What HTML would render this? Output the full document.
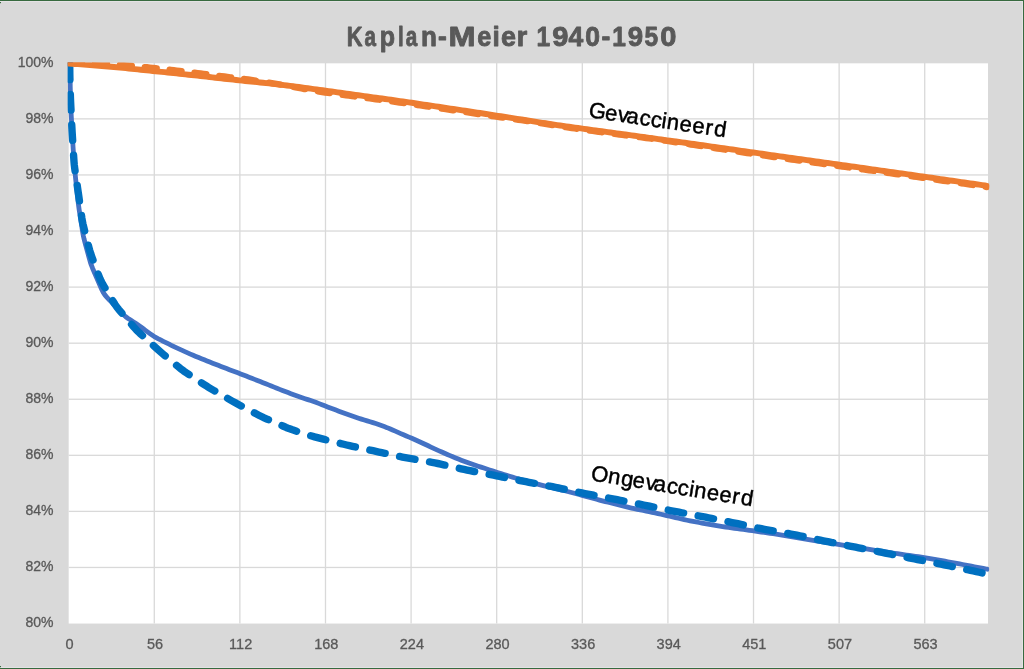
<!DOCTYPE html>
<html><head><meta charset="utf-8"><style>
html,body{margin:0;padding:0;background:#d9d9d9;}
body{width:1024px;height:669px;overflow:hidden;font-family:"Liberation Sans",sans-serif;}
svg{display:block;will-change:transform;}
</style></head><body>
<svg width="1024" height="669" viewBox="0 0 1024 669">
<defs><clipPath id="pc"><rect x="67.67" y="62.51" width="921.53" height="561.33"/></clipPath></defs>
<rect x="0" y="0" width="1024" height="669" fill="#d9d9d9"/>
<rect x="0" y="1" width="1022" height="1" fill="#e4e2e4"/>
<rect x="1022" y="1" width="1" height="667" fill="#e4e2e4"/>
<rect x="0" y="667" width="1022" height="1" fill="#e4e2e4"/>
<rect x="0" y="0" width="1024" height="1" fill="#376a3f"/>
<rect x="1023" y="0" width="1" height="669" fill="#376a3f"/>
<rect x="0" y="668" width="1024" height="1" fill="#376a3f"/>
<rect x="0" y="666" width="1" height="1.2" fill="#376a3f"/>
<rect x="0" y="2" width="1" height="1.2" fill="#376a3f"/>
<rect x="68.67" y="63.31" width="919.33" height="560.23" fill="#ffffff"/>
<rect x="153.63" y="62.81" width="1.3" height="560.73" fill="#d9d9d9"/>
<rect x="239.23" y="62.81" width="1.3" height="560.73" fill="#d9d9d9"/>
<rect x="324.84" y="62.81" width="1.3" height="560.73" fill="#d9d9d9"/>
<rect x="410.44" y="62.81" width="1.3" height="560.73" fill="#d9d9d9"/>
<rect x="496.05" y="62.81" width="1.3" height="560.73" fill="#d9d9d9"/>
<rect x="581.66" y="62.81" width="1.3" height="560.73" fill="#d9d9d9"/>
<rect x="667.26" y="62.81" width="1.3" height="560.73" fill="#d9d9d9"/>
<rect x="752.87" y="62.81" width="1.3" height="560.73" fill="#d9d9d9"/>
<rect x="838.47" y="62.81" width="1.3" height="560.73" fill="#d9d9d9"/>
<rect x="924.08" y="62.81" width="1.3" height="560.73" fill="#d9d9d9"/>
<rect x="68.67" y="118.23" width="919.33" height="1.3" fill="#d9d9d9"/>
<rect x="68.67" y="174.31" width="919.33" height="1.3" fill="#d9d9d9"/>
<rect x="68.67" y="230.38" width="919.33" height="1.3" fill="#d9d9d9"/>
<rect x="68.67" y="286.45" width="919.33" height="1.3" fill="#d9d9d9"/>
<rect x="68.67" y="342.53" width="919.33" height="1.3" fill="#d9d9d9"/>
<rect x="68.67" y="398.60" width="919.33" height="1.3" fill="#d9d9d9"/>
<rect x="68.67" y="454.67" width="919.33" height="1.3" fill="#d9d9d9"/>
<rect x="68.67" y="510.74" width="919.33" height="1.3" fill="#d9d9d9"/>
<rect x="68.67" y="566.82" width="919.33" height="1.3" fill="#d9d9d9"/>
<g clip-path="url(#pc)" fill="none" stroke-linejoin="round">
<path d="M70.20 60.00 L70.20 63.00 L70.20 66.00 L70.20 69.00 L70.20 72.00 L70.20 75.00 L70.20 78.00 L70.20 81.00 L70.22 84.00 L70.26 87.00 L70.35 90.00 L70.44 93.00 L70.55 96.00 L70.65 99.00 L70.75 101.99 L70.85 104.99 L70.95 107.99 L71.06 110.99 L71.17 113.99 L71.31 116.98 L71.47 119.98 L71.65 122.98 L71.82 125.97 L71.99 128.97 L72.17 131.96 L72.34 134.96 L72.52 137.95 L72.69 140.95 L72.87 143.94 L73.05 146.94 L73.24 149.93 L73.47 152.92 L73.70 155.91 L73.94 158.90 L74.19 161.89 L74.43 164.88 L74.67 167.88 L74.91 170.87 L75.16 173.86 L75.43 176.84 L75.73 179.83 L76.05 182.81 L76.38 185.79 L76.71 188.78 L77.04 191.76 L77.37 194.74 L77.70 197.72 L78.03 200.70 L78.37 203.69 L78.74 206.66 L79.15 209.63 L79.61 212.60 L80.07 215.56 L80.53 218.53 L80.99 221.49 L81.45 224.46 L81.92 227.42 L82.38 230.38 L82.87 233.34 L83.43 236.29 L84.11 239.20 L84.87 242.11 L85.65 245.00 L86.44 247.90 L87.22 250.79 L88.00 253.69 L88.79 256.59 L89.58 259.48 L90.41 262.36 L91.37 265.20 L92.47 267.98 L93.64 270.74 L94.83 273.50 L96.02 276.25 L97.21 279.00 L98.40 281.76 L99.59 284.51 L100.78 287.27 L102.00 290.00 L103.36 292.64 L105.03 295.08 L106.97 297.34 L109.01 299.54 L111.07 301.72 L113.12 303.90 L115.18 306.09 L117.24 308.27 L119.30 310.45 L121.36 312.63 L123.47 314.75 L125.72 316.71 L128.13 318.47 L130.63 320.12 L133.15 321.75 L135.66 323.38 L138.15 325.06 L140.60 326.79 L143.03 328.55 L145.45 330.32 L147.87 332.09 L150.30 333.86 L152.75 335.57 L155.29 337.16 L157.92 338.59 L160.59 339.94 L163.27 341.29 L165.96 342.63 L168.64 343.97 L171.33 345.31 L174.02 346.64 L176.72 347.93 L179.45 349.18 L182.19 350.41 L184.93 351.63 L187.66 352.86 L190.41 354.08 L193.16 355.28 L195.92 356.44 L198.70 357.57 L201.48 358.69 L204.27 359.81 L207.05 360.93 L209.84 362.04 L212.62 363.15 L215.42 364.24 L218.21 365.33 L221.01 366.42 L223.81 367.51 L226.60 368.59 L229.40 369.67 L232.21 370.73 L235.02 371.79 L237.83 372.84 L240.63 373.91 L243.43 374.99 L246.22 376.09 L249.01 377.18 L251.81 378.28 L254.60 379.38 L257.39 380.48 L260.18 381.57 L262.98 382.67 L265.77 383.78 L268.55 384.89 L271.34 386.01 L274.12 387.13 L276.90 388.25 L279.69 389.36 L282.48 390.47 L285.28 391.54 L288.09 392.59 L290.90 393.64 L293.72 394.68 L296.53 395.71 L299.35 396.73 L302.19 397.72 L305.03 398.67 L307.87 399.63 L310.72 400.58 L313.56 401.55 L316.38 402.57 L319.18 403.63 L321.98 404.72 L324.78 405.81 L327.57 406.89 L330.37 407.97 L333.18 409.03 L335.99 410.09 L338.80 411.14 L341.61 412.19 L344.42 413.23 L347.24 414.24 L350.08 415.24 L352.91 416.23 L355.74 417.21 L358.58 418.18 L361.44 419.10 L364.30 419.99 L367.17 420.85 L370.05 421.72 L372.91 422.61 L375.76 423.56 L378.59 424.55 L381.41 425.57 L384.23 426.59 L387.04 427.63 L389.83 428.75 L392.58 429.94 L395.31 431.17 L398.05 432.41 L400.79 433.62 L403.55 434.80 L406.31 435.97 L409.07 437.14 L411.83 438.32 L414.58 439.52 L417.33 440.73 L420.06 441.96 L422.78 443.22 L425.50 444.50 L428.21 445.78 L430.92 447.06 L433.64 448.34 L436.37 449.59 L439.10 450.82 L441.84 452.05 L444.58 453.27 L447.33 454.48 L450.08 455.67 L452.85 456.82 L455.63 457.95 L458.41 459.07 L461.20 460.18 L464.00 461.27 L466.81 462.30 L469.65 463.28 L472.49 464.25 L475.33 465.21 L478.17 466.17 L481.01 467.13 L483.86 468.07 L486.71 469.01 L489.56 469.94 L492.42 470.86 L495.28 471.78 L498.14 472.69 L501.00 473.59 L503.85 474.50 L506.71 475.41 L509.58 476.30 L512.45 477.16 L515.34 477.98 L518.23 478.77 L521.13 479.57 L524.02 480.36 L526.91 481.15 L529.81 481.95 L532.70 482.74 L535.59 483.53 L538.49 484.32 L541.39 485.09 L544.30 485.82 L547.21 486.53 L550.13 487.24 L553.04 487.95 L555.96 488.65 L558.88 489.36 L561.79 490.07 L564.71 490.77 L567.62 491.49 L570.53 492.22 L573.43 492.98 L576.33 493.76 L579.22 494.55 L582.12 495.34 L585.01 496.13 L587.91 496.92 L590.80 497.71 L593.69 498.50 L596.59 499.29 L599.49 500.07 L602.39 500.82 L605.30 501.55 L608.21 502.28 L611.12 503.01 L614.03 503.74 L616.94 504.47 L619.85 505.20 L622.76 505.93 L625.67 506.66 L628.59 507.37 L631.51 508.04 L634.44 508.67 L637.38 509.28 L640.32 509.89 L643.26 510.51 L646.19 511.12 L649.13 511.73 L652.07 512.35 L655.00 512.96 L657.94 513.58 L660.87 514.22 L663.80 514.88 L666.72 515.55 L669.64 516.23 L672.57 516.90 L675.49 517.57 L678.41 518.25 L681.34 518.92 L684.26 519.60 L687.19 520.26 L690.12 520.88 L693.07 521.45 L696.02 521.98 L698.97 522.51 L701.93 523.03 L704.88 523.56 L707.84 524.08 L710.79 524.60 L713.74 525.13 L716.70 525.64 L719.66 526.13 L722.62 526.58 L725.59 527.00 L728.57 527.42 L731.54 527.83 L734.51 528.25 L737.48 528.66 L740.45 529.07 L743.42 529.49 L746.40 529.90 L749.37 530.32 L752.34 530.74 L755.31 531.16 L758.28 531.59 L761.25 532.02 L764.22 532.44 L767.19 532.87 L770.16 533.30 L773.13 533.73 L776.10 534.16 L779.06 534.60 L782.02 535.08 L784.98 535.59 L787.94 536.10 L790.89 536.61 L793.85 537.13 L796.81 537.64 L799.76 538.15 L802.72 538.67 L805.67 539.18 L808.63 539.68 L811.59 540.17 L814.56 540.63 L817.52 541.09 L820.49 541.55 L823.45 542.00 L826.42 542.46 L829.38 542.92 L832.35 543.37 L835.31 543.83 L838.28 544.30 L841.24 544.77 L844.20 545.26 L847.16 545.74 L850.12 546.23 L853.08 546.72 L856.04 547.20 L859.00 547.69 L861.96 548.18 L864.92 548.66 L867.89 549.14 L870.85 549.61 L873.81 550.07 L876.78 550.52 L879.75 550.98 L882.71 551.43 L885.68 551.88 L888.64 552.34 L891.61 552.79 L894.57 553.25 L897.54 553.70 L900.51 554.14 L903.48 554.58 L906.44 555.01 L909.41 555.44 L912.38 555.87 L915.35 556.30 L918.32 556.73 L921.29 557.17 L924.26 557.60 L927.23 558.05 L930.19 558.53 L933.14 559.05 L936.09 559.59 L939.04 560.13 L941.99 560.68 L944.94 561.22 L947.89 561.76 L950.84 562.31 L953.79 562.85 L956.74 563.40 L959.69 563.95 L962.64 564.51 L965.59 565.07 L968.54 565.64 L971.48 566.20 L974.43 566.76 L977.38 567.32 L980.32 567.89 L983.27 568.45 L986.22 569.01 L987.20 569.20" stroke="#4472c4" stroke-width="4.80" stroke-linecap="round"/>
<path d="M69.70 60.00 L69.72 63.00 L69.74 66.00 L69.76 69.00 L69.79 72.01 L69.83 75.01 L69.89 78.01 L69.97 81.01 L70.05 84.01 L70.14 87.01 L70.22 90.01 L70.30 93.01 L70.39 96.01 L70.49 99.01 L70.61 102.01 L70.75 105.00 L70.90 108.00 L71.05 111.00 L71.20 114.00 L71.35 117.00 L71.50 119.99 L71.65 122.99 L71.80 125.99 L71.96 128.99 L72.13 131.98 L72.31 134.98 L72.50 137.97 L72.69 140.97 L72.88 143.96 L73.07 146.96 L73.25 149.96 L73.44 152.95 L73.63 155.95 L73.82 158.94 L74.03 161.94 L74.29 164.92 L74.65 167.90 L75.07 170.87 L75.51 173.84 L75.95 176.81 L76.39 179.78 L76.83 182.75 L77.27 185.72 L77.70 188.69 L78.13 191.66 L78.55 194.63 L78.97 197.60 L79.39 200.57 L79.80 203.55 L80.22 206.52 L80.64 209.49 L81.06 212.46 L81.48 215.43 L81.91 218.40 L82.41 221.36 L83.03 224.29 L83.74 227.21 L84.48 230.11 L85.23 233.02 L85.97 235.93 L86.72 238.84 L87.47 241.74 L88.21 244.65 L88.96 247.56 L89.75 250.45 L90.62 253.32 L91.59 256.16 L92.62 258.98 L93.65 261.79 L94.69 264.61 L95.72 267.43 L96.76 270.24 L97.79 273.06 L98.84 275.88 L99.94 278.66 L101.19 281.37 L102.63 284.00 L104.16 286.58 L105.71 289.14 L107.27 291.71 L108.82 294.28 L110.37 296.85 L111.93 299.41 L113.49 301.98 L115.08 304.52 L116.78 306.98 L118.62 309.34 L120.56 311.63 L122.51 313.91 L124.46 316.19 L126.42 318.47 L128.38 320.74 L130.33 323.02 L132.29 325.29 L134.26 327.56 L136.29 329.76 L138.41 331.88 L140.60 333.92 L142.82 335.95 L145.04 337.97 L147.26 339.98 L149.48 342.00 L151.70 344.02 L153.93 346.04 L156.15 348.06 L158.38 350.06 L160.64 352.03 L162.94 353.97 L165.24 355.89 L167.55 357.81 L169.86 359.73 L172.16 361.65 L174.47 363.57 L176.78 365.49 L179.09 367.40 L181.43 369.28 L183.82 371.08 L186.29 372.78 L188.79 374.44 L191.30 376.09 L193.81 377.74 L196.32 379.39 L198.83 381.04 L201.33 382.69 L203.84 384.33 L206.36 385.96 L208.91 387.55 L211.48 389.09 L214.08 390.59 L216.68 392.10 L219.28 393.60 L221.88 395.10 L224.48 396.60 L227.08 398.10 L229.68 399.60 L232.28 401.09 L234.90 402.56 L237.54 403.99 L240.19 405.40 L242.84 406.80 L245.49 408.20 L248.15 409.60 L250.80 411.00 L253.46 412.40 L256.11 413.80 L258.77 415.19 L261.46 416.53 L264.17 417.81 L266.91 419.03 L269.66 420.23 L272.41 421.44 L275.16 422.64 L277.91 423.85 L280.66 425.05 L283.41 426.26 L286.16 427.45 L288.94 428.57 L291.76 429.59 L294.61 430.54 L297.46 431.46 L300.32 432.39 L303.17 433.31 L306.03 434.23 L308.89 435.15 L311.75 436.05 L314.63 436.90 L317.52 437.68 L320.43 438.42 L323.34 439.15 L326.25 439.88 L329.16 440.61 L332.08 441.35 L334.99 442.08 L337.90 442.81 L340.81 443.54 L343.72 444.27 L346.63 444.98 L349.56 445.66 L352.49 446.31 L355.42 446.94 L358.36 447.58 L361.29 448.21 L364.22 448.84 L367.16 449.48 L370.09 450.11 L373.03 450.74 L375.96 451.38 L378.89 452.01 L381.83 452.64 L384.76 453.27 L387.70 453.90 L390.63 454.54 L393.56 455.17 L396.50 455.80 L399.43 456.43 L402.37 457.03 L405.32 457.60 L408.27 458.14 L411.23 458.67 L414.18 459.20 L417.13 459.73 L420.09 460.26 L423.04 460.79 L426.00 461.31 L428.95 461.84 L431.91 462.37 L434.86 462.92 L437.80 463.50 L440.73 464.13 L443.66 464.79 L446.59 465.46 L449.52 466.12 L452.44 466.79 L455.37 467.45 L458.30 468.12 L461.22 468.79 L464.15 469.44 L467.08 470.08 L470.03 470.67 L472.97 471.25 L475.92 471.82 L478.87 472.38 L481.81 472.95 L484.76 473.52 L487.71 474.08 L490.66 474.65 L493.60 475.23 L496.54 475.81 L499.49 476.41 L502.43 477.00 L505.37 477.59 L508.31 478.18 L511.26 478.77 L514.20 479.37 L517.14 479.96 L520.08 480.55 L523.03 481.14 L525.97 481.72 L528.92 482.29 L531.87 482.84 L534.82 483.40 L537.77 483.95 L540.72 484.50 L543.67 485.05 L546.62 485.61 L549.57 486.16 L552.52 486.71 L555.46 487.29 L558.40 487.89 L561.34 488.51 L564.27 489.15 L567.21 489.78 L570.14 490.42 L573.07 491.05 L576.01 491.69 L578.94 492.32 L581.88 492.94 L584.82 493.53 L587.77 494.10 L590.72 494.67 L593.66 495.23 L596.61 495.79 L599.56 496.35 L602.51 496.91 L605.46 497.47 L608.41 498.03 L611.35 498.59 L614.30 499.16 L617.25 499.74 L620.19 500.32 L623.13 500.91 L626.08 501.50 L629.02 502.09 L631.96 502.68 L634.91 503.27 L637.85 503.86 L640.79 504.46 L643.73 505.05 L646.67 505.65 L649.61 506.25 L652.55 506.86 L655.49 507.47 L658.43 508.08 L661.37 508.69 L664.31 509.30 L667.25 509.91 L670.19 510.51 L673.13 511.10 L676.08 511.67 L679.03 512.23 L681.98 512.78 L684.93 513.33 L687.88 513.88 L690.83 514.44 L693.78 514.99 L696.73 515.54 L699.68 516.09 L702.63 516.65 L705.58 517.21 L708.52 517.79 L711.46 518.38 L714.41 518.97 L717.35 519.56 L720.29 520.15 L723.23 520.74 L726.18 521.33 L729.12 521.92 L732.06 522.51 L735.00 523.11 L737.94 523.73 L740.88 524.36 L743.81 524.99 L746.74 525.62 L749.68 526.25 L752.61 526.88 L755.55 527.51 L758.48 528.14 L761.42 528.74 L764.37 529.31 L767.32 529.84 L770.28 530.36 L773.23 530.89 L776.19 531.41 L779.15 531.93 L782.10 532.45 L785.06 532.98 L788.01 533.50 L790.97 534.03 L793.92 534.57 L796.86 535.16 L799.80 535.77 L802.73 536.40 L805.67 537.03 L808.60 537.65 L811.54 538.28 L814.47 538.91 L817.41 539.54 L820.34 540.17 L823.28 540.79 L826.22 541.39 L829.16 541.98 L832.11 542.56 L835.05 543.14 L838.00 543.71 L840.94 544.29 L843.89 544.87 L846.83 545.45 L849.78 546.03 L852.72 546.61 L855.67 547.19 L858.61 547.77 L861.56 548.36 L864.50 548.94 L867.45 549.52 L870.39 550.10 L873.33 550.69 L876.28 551.27 L879.22 551.85 L882.17 552.44 L885.11 553.02 L888.05 553.61 L891.00 554.20 L893.94 554.79 L896.88 555.39 L899.82 555.98 L902.77 556.57 L905.71 557.16 L908.65 557.75 L911.60 558.34 L914.54 558.92 L917.48 559.51 L920.43 560.09 L923.37 560.68 L926.32 561.26 L929.26 561.84 L932.20 562.42 L935.15 563.01 L938.09 563.59 L941.04 564.18 L943.98 564.77 L946.92 565.38 L949.85 566.00 L952.79 566.62 L955.73 567.24 L958.66 567.86 L961.60 568.48 L964.54 569.10 L967.47 569.73 L970.41 570.35 L973.34 570.98 L976.28 571.62 L979.21 572.26 L982.14 572.91 L985.07 573.55 L988.00 574.20" stroke="#0070c0" stroke-width="7.40" stroke-linecap="round" stroke-dasharray="15.60 14.84" stroke-dashoffset="26.46"/>
<path d="M66.00 63.30 L68.99 63.52 L71.99 63.73 L74.98 63.95 L77.97 64.17 L80.97 64.39 L83.96 64.60 L86.95 64.82 L89.94 65.04 L92.94 65.26 L95.93 65.48 L98.92 65.71 L101.91 65.95 L104.90 66.19 L107.89 66.44 L110.88 66.70 L113.87 66.97 L116.86 67.26 L119.84 67.55 L122.83 67.85 L125.81 68.16 L128.80 68.48 L131.78 68.79 L134.77 69.11 L137.75 69.42 L140.74 69.74 L143.72 70.05 L146.71 70.36 L149.69 70.66 L152.68 70.97 L155.66 71.27 L158.65 71.57 L161.63 71.88 L164.62 72.18 L167.60 72.49 L170.59 72.80 L173.57 73.11 L176.56 73.42 L179.54 73.74 L182.53 74.06 L185.51 74.38 L188.49 74.70 L191.48 75.03 L194.46 75.35 L197.44 75.69 L200.43 76.02 L203.41 76.35 L206.39 76.69 L209.37 77.03 L212.35 77.36 L215.34 77.70 L218.32 78.04 L221.30 78.37 L224.28 78.71 L227.26 79.04 L230.25 79.37 L233.23 79.69 L236.21 80.02 L239.20 80.33 L242.18 80.64 L245.17 80.95 L248.15 81.26 L251.14 81.56 L254.12 81.86 L257.11 82.16 L260.10 82.47 L263.08 82.78 L266.07 83.09 L269.05 83.41 L272.03 83.73 L275.01 84.06 L278.00 84.40 L280.98 84.75 L283.96 85.11 L286.93 85.48 L289.91 85.85 L292.89 86.23 L295.86 86.62 L298.84 87.02 L301.81 87.42 L304.79 87.82 L307.76 88.23 L310.73 88.64 L313.70 89.05 L316.68 89.46 L319.65 89.87 L322.62 90.28 L325.59 90.69 L328.57 91.11 L331.54 91.53 L334.51 91.94 L337.48 92.36 L340.46 92.77 L343.43 93.19 L346.40 93.61 L349.37 94.02 L352.34 94.44 L355.32 94.85 L358.29 95.26 L361.26 95.67 L364.23 96.09 L367.21 96.50 L370.18 96.91 L373.15 97.32 L376.13 97.72 L379.10 98.13 L382.07 98.54 L385.04 98.96 L388.02 99.37 L390.99 99.78 L393.96 100.20 L396.93 100.62 L399.90 101.05 L402.87 101.47 L405.84 101.91 L408.81 102.34 L411.78 102.78 L414.75 103.22 L417.72 103.66 L420.68 104.11 L423.65 104.55 L426.62 104.99 L429.59 105.44 L432.56 105.88 L435.52 106.33 L438.49 106.77 L441.46 107.22 L444.43 107.66 L447.39 108.11 L450.36 108.55 L453.33 109.00 L456.30 109.45 L459.27 109.89 L462.23 110.34 L465.20 110.78 L468.17 111.23 L471.14 111.68 L474.10 112.13 L477.07 112.59 L480.04 113.04 L483.00 113.50 L485.97 113.96 L488.93 114.42 L491.90 114.88 L494.86 115.35 L497.83 115.81 L500.79 116.28 L503.76 116.74 L506.72 117.21 L509.69 117.68 L512.65 118.14 L515.61 118.61 L518.58 119.08 L521.54 119.54 L524.51 120.01 L527.47 120.48 L530.44 120.94 L533.40 121.41 L536.37 121.88 L539.33 122.34 L542.30 122.80 L545.26 123.27 L548.23 123.72 L551.19 124.18 L554.16 124.63 L557.13 125.07 L560.10 125.51 L563.06 125.95 L566.04 126.37 L569.01 126.79 L571.98 127.21 L574.95 127.62 L577.92 128.03 L580.90 128.44 L583.87 128.85 L586.84 129.26 L589.82 129.66 L592.79 130.07 L595.76 130.47 L598.74 130.88 L601.71 131.28 L604.68 131.69 L607.66 132.09 L610.63 132.50 L613.60 132.90 L616.58 133.31 L619.55 133.71 L622.52 134.12 L625.50 134.53 L628.47 134.93 L631.44 135.34 L634.42 135.75 L637.39 136.16 L640.36 136.57 L643.34 136.98 L646.31 137.39 L649.28 137.80 L652.25 138.22 L655.23 138.63 L658.20 139.05 L661.17 139.46 L664.14 139.88 L667.11 140.30 L670.09 140.71 L673.06 141.13 L676.03 141.54 L679.00 141.96 L681.97 142.38 L684.95 142.79 L687.92 143.21 L690.89 143.62 L693.86 144.04 L696.83 144.46 L699.81 144.87 L702.78 145.29 L705.75 145.71 L708.72 146.13 L711.69 146.55 L714.66 146.97 L717.64 147.39 L720.61 147.81 L723.58 148.24 L726.55 148.66 L729.52 149.09 L732.49 149.52 L735.46 149.95 L738.43 150.38 L741.40 150.81 L744.37 151.24 L747.34 151.67 L750.31 152.09 L753.28 152.52 L756.25 152.94 L759.22 153.36 L762.19 153.79 L765.16 154.21 L768.14 154.63 L771.11 155.05 L774.08 155.46 L777.05 155.88 L780.02 156.30 L782.99 156.72 L785.97 157.14 L788.94 157.56 L791.91 157.97 L794.88 158.39 L797.85 158.81 L800.82 159.23 L803.80 159.65 L806.77 160.07 L809.74 160.48 L812.71 160.90 L815.68 161.32 L818.65 161.74 L821.63 162.16 L824.60 162.57 L827.57 162.99 L830.54 163.41 L833.51 163.83 L836.48 164.25 L839.46 164.67 L842.43 165.09 L845.40 165.51 L848.37 165.93 L851.34 166.35 L854.31 166.77 L857.28 167.19 L860.26 167.62 L863.23 168.04 L866.20 168.46 L869.17 168.88 L872.14 169.30 L875.11 169.72 L878.08 170.14 L881.05 170.57 L884.03 170.99 L887.00 171.41 L889.97 171.83 L892.94 172.25 L895.91 172.67 L898.88 173.10 L901.85 173.52 L904.82 173.94 L907.80 174.36 L910.77 174.78 L913.74 175.21 L916.71 175.63 L919.68 176.05 L922.65 176.48 L925.62 176.90 L928.59 177.33 L931.56 177.76 L934.53 178.19 L937.50 178.62 L940.47 179.05 L943.44 179.48 L946.41 179.91 L949.38 180.34 L952.35 180.77 L955.32 181.20 L958.29 181.63 L961.26 182.06 L964.23 182.49 L967.20 182.93 L970.17 183.36 L973.14 183.79 L976.11 184.22 L979.08 184.65 L982.05 185.08 L985.02 185.51 L987.00 185.80" stroke="#ed7d31" stroke-width="5.90" stroke-linecap="round"/>
<path d="M66.00 61.65 L69.00 61.79 L72.00 61.94 L75.00 62.08 L78.00 62.22 L81.00 62.36 L83.99 62.51 L86.99 62.65 L89.99 62.80 L92.99 62.95 L95.99 63.11 L98.99 63.27 L101.98 63.46 L104.98 63.65 L107.98 63.86 L110.97 64.08 L113.96 64.31 L116.96 64.55 L119.95 64.80 L122.94 65.06 L125.93 65.32 L128.92 65.59 L131.91 65.86 L134.90 66.13 L137.89 66.41 L140.88 66.68 L143.87 66.96 L146.86 67.24 L149.85 67.54 L152.84 67.84 L155.82 68.16 L158.81 68.49 L161.79 68.83 L164.77 69.17 L167.76 69.51 L170.74 69.85 L173.72 70.19 L176.70 70.54 L179.69 70.89 L182.67 71.24 L185.65 71.59 L188.63 71.95 L191.61 72.31 L194.59 72.68 L197.57 73.05 L200.55 73.43 L203.53 73.81 L206.51 74.19 L209.48 74.58 L212.46 74.96 L215.44 75.35 L218.42 75.73 L221.40 76.11 L224.37 76.49 L227.35 76.87 L230.33 77.25 L233.31 77.62 L236.29 77.99 L239.27 78.36 L242.25 78.73 L245.23 79.10 L248.21 79.49 L251.18 79.89 L254.15 80.31 L257.12 80.75 L260.09 81.20 L263.06 81.66 L266.02 82.13 L268.99 82.61 L271.95 83.09 L274.91 83.59 L277.87 84.11 L280.83 84.64 L283.78 85.18 L286.73 85.73 L289.68 86.29 L292.63 86.85 L295.58 87.41 L298.53 87.97 L301.48 88.52 L304.43 89.06 L307.39 89.60 L310.34 90.14 L313.30 90.67 L316.26 91.18 L319.22 91.67 L322.18 92.13 L325.15 92.56 L328.13 92.98 L331.10 93.38 L334.08 93.77 L337.06 94.17 L340.03 94.56 L343.01 94.96 L345.99 95.35 L348.96 95.74 L351.94 96.14 L354.92 96.53 L357.89 96.92 L360.87 97.31 L363.85 97.70 L366.82 98.09 L369.80 98.48 L372.78 98.87 L375.75 99.27 L378.73 99.67 L381.71 100.07 L384.68 100.47 L387.66 100.87 L390.63 101.28 L393.61 101.69 L396.58 102.10 L399.55 102.52 L402.53 102.94 L405.50 103.36 L408.47 103.78 L411.44 104.21 L414.42 104.64 L417.39 105.07 L420.36 105.50 L423.33 105.94 L426.30 106.37 L429.27 106.81 L432.24 107.24 L435.21 107.68 L438.18 108.12 L441.15 108.55 L444.12 108.99 L447.10 109.42 L450.07 109.86 L453.04 110.30 L456.01 110.73 L458.98 111.17 L461.95 111.61 L464.92 112.05 L467.89 112.48 L470.86 112.93 L473.83 113.37 L476.80 113.81 L479.77 114.26 L482.74 114.70 L485.71 115.15 L488.68 115.60 L491.64 116.04 L494.61 116.48 L497.59 116.91 L500.56 117.33 L503.53 117.75 L506.51 118.16 L509.48 118.56 L512.46 118.97 L515.43 119.38 L518.41 119.80 L521.38 120.22 L524.35 120.65 L527.32 121.10 L530.28 121.56 L533.25 122.03 L536.21 122.51 L539.18 122.99 L542.14 123.47 L545.11 123.94 L548.07 124.42 L551.04 124.89 L554.00 125.35 L556.97 125.81 L559.94 126.26 L562.91 126.71 L565.88 127.16 L568.85 127.60 L571.82 128.03 L574.79 128.46 L577.76 128.89 L580.73 129.32 L583.71 129.74 L586.68 130.16 L589.65 130.58 L592.63 131.00 L595.60 131.42 L598.57 131.83 L601.55 132.23 L604.53 132.62 L607.50 133.01 L610.48 133.40 L613.46 133.78 L616.44 134.17 L619.41 134.55 L622.39 134.93 L625.37 135.32 L628.35 135.70 L631.33 136.09 L634.30 136.48 L637.28 136.86 L640.26 137.25 L643.23 137.64 L646.21 138.04 L649.19 138.44 L652.16 138.85 L655.13 139.26 L658.11 139.69 L661.08 140.12 L664.05 140.56 L667.02 141.00 L669.99 141.44 L672.96 141.88 L675.93 142.33 L678.90 142.77 L681.87 143.21 L684.84 143.65 L687.81 144.09 L690.78 144.53 L693.75 144.97 L696.72 145.42 L699.69 145.86 L702.66 146.30 L705.63 146.74 L708.60 147.19 L711.57 147.63 L714.54 148.08 L717.50 148.52 L720.47 148.97 L723.44 149.42 L726.41 149.87 L729.38 150.33 L732.35 150.78 L735.31 151.23 L738.28 151.69 L741.25 152.14 L744.22 152.59 L747.19 153.05 L750.16 153.50 L753.12 153.95 L756.09 154.40 L759.06 154.85 L762.03 155.29 L765.00 155.73 L767.97 156.17 L770.94 156.60 L773.92 157.02 L776.89 157.44 L779.86 157.86 L782.84 158.27 L785.81 158.69 L788.78 159.10 L791.76 159.51 L794.73 159.93 L797.71 160.34 L800.68 160.75 L803.65 161.17 L806.63 161.58 L809.60 161.99 L812.58 162.40 L815.55 162.82 L818.52 163.23 L821.50 163.64 L824.47 164.06 L827.45 164.47 L830.42 164.89 L833.39 165.30 L836.37 165.71 L839.34 166.13 L842.32 166.54 L845.29 166.96 L848.26 167.37 L851.24 167.79 L854.21 168.21 L857.18 168.62 L860.16 169.04 L863.13 169.45 L866.10 169.87 L869.08 170.29 L872.05 170.70 L875.02 171.12 L878.00 171.54 L880.97 171.95 L883.95 172.37 L886.92 172.79 L889.89 173.20 L892.87 173.62 L895.84 174.03 L898.81 174.45 L901.79 174.87 L904.76 175.28 L907.73 175.70 L910.71 176.12 L913.68 176.54 L916.65 176.96 L919.63 177.38 L922.60 177.80 L925.57 178.22 L928.55 178.64 L931.52 179.06 L934.49 179.48 L937.46 179.91 L940.44 180.33 L943.41 180.76 L946.38 181.18 L949.35 181.61 L952.32 182.04 L955.30 182.46 L958.27 182.89 L961.24 183.31 L964.21 183.74 L967.19 184.17 L970.16 184.59 L973.13 185.02 L976.10 185.44 L979.07 185.87 L982.05 186.30 L985.02 186.72 L987.00 187.01" stroke="#ed7d31" stroke-width="6.30" stroke-linecap="round" stroke-dasharray="12.00 12.98" stroke-dashoffset="20.93"/>
</g>
<g><text transform="translate(355.20,45.70) scale(0.774,1)" x="-10.99" y="0" font-family="Liberation Sans" font-weight="bold" font-size="28.20" fill="#595959" stroke="#595959" stroke-width="0.9" stroke-linejoin="round">K</text><text transform="translate(370.50,45.70) scale(0.732,1)" x="-8.34" y="0" font-family="Liberation Sans" font-weight="bold" font-size="28.20" fill="#595959" stroke="#595959" stroke-width="0.9" stroke-linejoin="round">a</text><text transform="translate(387.60,45.70) scale(0.887,1)" x="-8.96" y="0" font-family="Liberation Sans" font-weight="bold" font-size="28.20" fill="#595959" stroke="#595959" stroke-width="0.9" stroke-linejoin="round">p</text><text transform="translate(400.70,45.70) scale(0.724,1)" x="-3.90" y="0" font-family="Liberation Sans" font-weight="bold" font-size="28.20" fill="#595959" stroke="#595959" stroke-width="0.9" stroke-linejoin="round">l</text><text transform="translate(411.90,45.70) scale(0.732,1)" x="-8.34" y="0" font-family="Liberation Sans" font-weight="bold" font-size="28.20" fill="#595959" stroke="#595959" stroke-width="0.9" stroke-linejoin="round">a</text><text transform="translate(429.00,45.70) scale(0.925,1)" x="-8.67" y="0" font-family="Liberation Sans" font-weight="bold" font-size="28.20" fill="#595959" stroke="#595959" stroke-width="0.9" stroke-linejoin="round">n</text><text transform="translate(442.50,45.70) scale(0.936,1)" x="-4.68" y="0" font-family="Liberation Sans" font-weight="bold" font-size="28.20" fill="#595959" stroke="#595959" stroke-width="0.9" stroke-linejoin="round">-</text><text transform="translate(461.90,45.70) scale(1.151,1)" x="-11.75" y="0" font-family="Liberation Sans" font-weight="bold" font-size="28.20" fill="#595959" stroke="#595959" stroke-width="0.9" stroke-linejoin="round">M</text><text transform="translate(484.30,45.70) scale(0.896,1)" x="-7.91" y="0" font-family="Liberation Sans" font-weight="bold" font-size="28.20" fill="#595959" stroke="#595959" stroke-width="0.9" stroke-linejoin="round">e</text><text transform="translate(496.10,45.70) scale(0.930,1)" x="-3.90" y="0" font-family="Liberation Sans" font-weight="bold" font-size="28.20" fill="#595959" stroke="#595959" stroke-width="0.9" stroke-linejoin="round">i</text><text transform="translate(508.50,45.70) scale(0.955,1)" x="-7.91" y="0" font-family="Liberation Sans" font-weight="bold" font-size="28.20" fill="#595959" stroke="#595959" stroke-width="0.9" stroke-linejoin="round">e</text><text transform="translate(522.60,45.70) scale(0.955,1)" x="-6.20" y="0" font-family="Liberation Sans" font-weight="bold" font-size="28.20" fill="#595959" stroke="#595959" stroke-width="0.9" stroke-linejoin="round">r</text><text transform="translate(543.70,45.70) scale(0.869,1)" x="-8.34" y="0" font-family="Liberation Sans" font-weight="bold" font-size="28.20" fill="#595959" stroke="#595959" stroke-width="0.9" stroke-linejoin="round">1</text><text transform="translate(560.30,45.70) scale(1.032,1)" x="-7.81" y="0" font-family="Liberation Sans" font-weight="bold" font-size="28.20" fill="#595959" stroke="#595959" stroke-width="0.9" stroke-linejoin="round">9</text><text transform="translate(575.90,45.70) scale(0.940,1)" x="-7.98" y="0" font-family="Liberation Sans" font-weight="bold" font-size="28.20" fill="#595959" stroke="#595959" stroke-width="0.9" stroke-linejoin="round">4</text><text transform="translate(592.70,45.70) scale(0.939,1)" x="-7.82" y="0" font-family="Liberation Sans" font-weight="bold" font-size="28.20" fill="#595959" stroke="#595959" stroke-width="0.9" stroke-linejoin="round">0</text><text transform="translate(605.80,45.70) scale(0.936,1)" x="-4.68" y="0" font-family="Liberation Sans" font-weight="bold" font-size="28.20" fill="#595959" stroke="#595959" stroke-width="0.9" stroke-linejoin="round">-</text><text transform="translate(619.40,45.70) scale(0.869,1)" x="-8.34" y="0" font-family="Liberation Sans" font-weight="bold" font-size="28.20" fill="#595959" stroke="#595959" stroke-width="0.9" stroke-linejoin="round">1</text><text transform="translate(635.40,45.70) scale(0.981,1)" x="-7.81" y="0" font-family="Liberation Sans" font-weight="bold" font-size="28.20" fill="#595959" stroke="#595959" stroke-width="0.9" stroke-linejoin="round">9</text><text transform="translate(651.45,45.70) scale(0.869,1)" x="-7.88" y="0" font-family="Liberation Sans" font-weight="bold" font-size="28.20" fill="#595959" stroke="#595959" stroke-width="0.9" stroke-linejoin="round">5</text><text transform="translate(668.30,45.70) scale(1.029,1)" x="-7.82" y="0" font-family="Liberation Sans" font-weight="bold" font-size="28.20" fill="#595959" stroke="#595959" stroke-width="0.9" stroke-linejoin="round">0</text></g>
<text x="53.5" y="66.71" text-anchor="end" font-family="Liberation Sans" font-size="14" fill="#595959" stroke="#595959" stroke-width="0.3">100%</text>
<text x="53.5" y="122.78" text-anchor="end" font-family="Liberation Sans" font-size="14" fill="#595959" stroke="#595959" stroke-width="0.3">98%</text>
<text x="53.5" y="178.86" text-anchor="end" font-family="Liberation Sans" font-size="14" fill="#595959" stroke="#595959" stroke-width="0.3">96%</text>
<text x="53.5" y="234.93" text-anchor="end" font-family="Liberation Sans" font-size="14" fill="#595959" stroke="#595959" stroke-width="0.3">94%</text>
<text x="53.5" y="291.00" text-anchor="end" font-family="Liberation Sans" font-size="14" fill="#595959" stroke="#595959" stroke-width="0.3">92%</text>
<text x="53.5" y="347.07" text-anchor="end" font-family="Liberation Sans" font-size="14" fill="#595959" stroke="#595959" stroke-width="0.3">90%</text>
<text x="53.5" y="403.15" text-anchor="end" font-family="Liberation Sans" font-size="14" fill="#595959" stroke="#595959" stroke-width="0.3">88%</text>
<text x="53.5" y="459.22" text-anchor="end" font-family="Liberation Sans" font-size="14" fill="#595959" stroke="#595959" stroke-width="0.3">86%</text>
<text x="53.5" y="515.29" text-anchor="end" font-family="Liberation Sans" font-size="14" fill="#595959" stroke="#595959" stroke-width="0.3">84%</text>
<text x="53.5" y="571.37" text-anchor="end" font-family="Liberation Sans" font-size="14" fill="#595959" stroke="#595959" stroke-width="0.3">82%</text>
<text x="53.5" y="627.44" text-anchor="end" font-family="Liberation Sans" font-size="14" fill="#595959" stroke="#595959" stroke-width="0.3">80%</text>
<text x="69.47" y="649" text-anchor="middle" font-family="Liberation Sans" font-size="14.5" fill="#595959" stroke="#595959" stroke-width="0.3">0</text>
<text x="155.08" y="649" text-anchor="middle" font-family="Liberation Sans" font-size="14.5" fill="#595959" stroke="#595959" stroke-width="0.3">56</text>
<text x="240.68" y="649" text-anchor="middle" font-family="Liberation Sans" font-size="14.5" fill="#595959" stroke="#595959" stroke-width="0.3">112</text>
<text x="326.29" y="649" text-anchor="middle" font-family="Liberation Sans" font-size="14.5" fill="#595959" stroke="#595959" stroke-width="0.3">168</text>
<text x="411.89" y="649" text-anchor="middle" font-family="Liberation Sans" font-size="14.5" fill="#595959" stroke="#595959" stroke-width="0.3">224</text>
<text x="497.50" y="649" text-anchor="middle" font-family="Liberation Sans" font-size="14.5" fill="#595959" stroke="#595959" stroke-width="0.3">280</text>
<text x="583.11" y="649" text-anchor="middle" font-family="Liberation Sans" font-size="14.5" fill="#595959" stroke="#595959" stroke-width="0.3">336</text>
<text x="668.71" y="649" text-anchor="middle" font-family="Liberation Sans" font-size="14.5" fill="#595959" stroke="#595959" stroke-width="0.3">394</text>
<text x="754.32" y="649" text-anchor="middle" font-family="Liberation Sans" font-size="14.5" fill="#595959" stroke="#595959" stroke-width="0.3">451</text>
<text x="839.92" y="649" text-anchor="middle" font-family="Liberation Sans" font-size="14.5" fill="#595959" stroke="#595959" stroke-width="0.3">507</text>
<text x="925.53" y="649" text-anchor="middle" font-family="Liberation Sans" font-size="14.5" fill="#595959" stroke="#595959" stroke-width="0.3">563</text>
<text transform="translate(588.00,117.03) rotate(8.40)" x="-0.01 16.35 29.22 38.20 51.28 62.56 73.46 78.96 91.75 104.64 117.88 126.50" y="0" font-family="Liberation Sans" font-size="22.00" fill="#000" stroke="#000" stroke-width="0.45">Gevaccineerd</text>
<text transform="translate(590.00,480.08) rotate(9.20)" x="0.35 17.42 30.67 42.40 55.35 63.89 77.11 88.00 99.45 104.54 117.62 130.08 143.19 151.90" y="0" font-family="Liberation Sans" font-size="22.00" fill="#000" stroke="#000" stroke-width="0.45">Ongevaccineerd</text>
</svg>
</body></html>
